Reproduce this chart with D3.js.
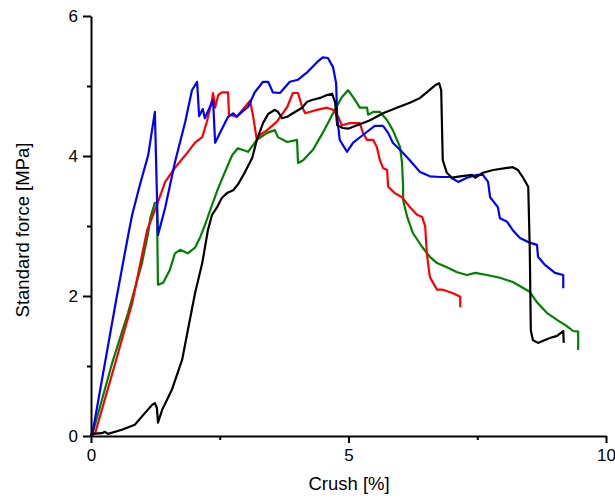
<!DOCTYPE html>
<html>
<head>
<meta charset="utf-8">
<script src="https://cdn.jsdelivr.net/npm/d3@7"></script>
<style>
  body { margin: 0; background: #fff; }
  svg { font-family: Arial, "Liberation Sans", sans-serif; }
  .line { fill: none; stroke-width: 2.2; stroke-linejoin: round; }
  .axis path, .axis line { stroke: #000; }
  .axis path { stroke-width: 2; }
  .axis line { stroke-width: 2; }
  .axis text { font-size: 17px; fill: #000; }
  .label { font-size: 18.5px; fill: #000; }
</style>
</head>
<body>
<svg id="chart" width="615" height="499"></svg>
<script>
// [crush %, standard force MPa]
const blue = [[0,0],[0.04,0.09],[0.27,1.04],[0.50,1.99],[0.74,2.94],[0.80,3.16],[0.95,3.59],[1.11,4.01],[1.24,4.63],[1.30,2.87],[1.44,3.26],[1.63,3.91],[1.83,4.49],[1.96,4.94],[2.06,5.06],[2.10,4.57],[2.17,4.67],[2.21,4.54],[2.37,4.80],[2.41,4.19],[2.66,4.56],[2.76,4.61],[2.83,4.56],[2.93,4.63],[3.05,4.70],[3.18,4.91],[3.34,5.06],[3.44,5.06],[3.53,4.91],[3.67,4.90],[3.86,5.06],[4.02,5.09],[4.19,5.19],[4.39,5.34],[4.50,5.41],[4.60,5.40],[4.70,5.27],[4.76,5.04],[4.78,4.56],[4.83,4.23],[4.97,4.06],[5.09,4.19],[5.28,4.30],[5.51,4.43],[5.67,4.43],[5.77,4.33],[5.86,4.19],[6.00,4.09],[6.19,3.94],[6.39,3.77],[6.58,3.71],[6.78,3.70],[6.97,3.70],[7.13,3.63],[7.30,3.69],[7.50,3.73],[7.61,3.73],[7.71,3.63],[7.75,3.41],[7.90,3.27],[7.94,3.11],[8.08,3.06],[8.19,2.94],[8.33,2.83],[8.49,2.77],[8.66,2.73],[8.68,2.56],[8.82,2.44],[9.01,2.33],[9.17,2.30],[9.17,2.11]];

const red = [[0,0],[0.08,0.04],[0.47,1.04],[0.80,1.90],[1.09,2.94],[1.28,3.30],[1.44,3.63],[1.63,3.83],[1.83,4.01],[2.02,4.19],[2.16,4.27],[2.25,4.49],[2.35,4.80],[2.37,4.90],[2.41,4.69],[2.47,4.87],[2.54,4.91],[2.66,4.91],[2.68,4.59],[2.83,4.56],[2.99,4.70],[3.09,4.79],[3.15,4.56],[3.22,4.23],[3.28,4.30],[3.42,4.37],[3.61,4.49],[3.81,4.70],[3.92,4.90],[4.02,4.90],[4.10,4.70],[4.16,4.61],[4.39,4.66],[4.58,4.69],[4.70,4.66],[4.80,4.56],[4.87,4.44],[5.03,4.47],[5.22,4.47],[5.28,4.33],[5.36,4.23],[5.48,4.23],[5.55,4.13],[5.61,3.94],[5.67,3.83],[5.75,3.80],[5.77,3.56],[5.90,3.47],[6.04,3.41],[6.19,3.27],[6.33,3.16],[6.43,3.13],[6.49,2.99],[6.52,2.61],[6.58,2.27],[6.72,2.09],[6.83,2.09],[7.03,2.04],[7.17,1.99],[7.17,1.84]];

const green = [[0,0],[0.04,0.06],[0.41,1.04],[0.72,1.76],[0.99,2.47],[1.11,2.90],[1.15,3.11],[1.24,3.33],[1.28,3.33],[1.30,2.16],[1.40,2.19],[1.53,2.37],[1.63,2.61],[1.73,2.66],[1.88,2.61],[2.02,2.69],[2.12,2.84],[2.21,3.01],[2.35,3.30],[2.47,3.54],[2.60,3.77],[2.74,4.01],[2.85,4.11],[3.05,4.06],[3.22,4.23],[3.42,4.33],[3.57,4.37],[3.63,4.27],[3.81,4.20],[4.00,4.23],[4.02,3.90],[4.12,3.94],[4.31,4.09],[4.50,4.33],[4.70,4.61],[4.87,4.84],[4.99,4.94],[5.09,4.84],[5.22,4.69],[5.36,4.69],[5.38,4.59],[5.48,4.63],[5.61,4.63],[5.75,4.51],[5.86,4.37],[6.00,4.13],[6.04,3.90],[6.06,3.56],[6.06,3.37],[6.14,3.13],[6.25,2.90],[6.43,2.70],[6.58,2.56],[6.72,2.47],[6.91,2.41],[7.11,2.34],[7.30,2.30],[7.46,2.33],[7.69,2.30],[7.94,2.26],[8.19,2.20],[8.52,2.06],[8.66,1.91],[8.85,1.76],[9.05,1.66],[9.24,1.57],[9.36,1.50],[9.46,1.49],[9.46,1.23]];

const black = [[0,0],[0.02,0.03],[0.21,0.04],[0.27,0.06],[0.33,0.03],[0.60,0.09],[0.85,0.16],[1.05,0.33],[1.18,0.44],[1.24,0.47],[1.28,0.40],[1.30,0.19],[1.38,0.37],[1.57,0.66],[1.77,1.09],[1.88,1.51],[2.02,2.04],[2.16,2.47],[2.27,2.94],[2.35,3.16],[2.45,3.27],[2.54,3.40],[2.64,3.47],[2.76,3.51],[2.85,3.59],[2.99,3.77],[3.13,3.97],[3.22,4.23],[3.34,4.47],[3.44,4.60],[3.57,4.66],[3.63,4.63],[3.71,4.54],[3.81,4.56],[3.92,4.61],[4.10,4.69],[4.19,4.77],[4.29,4.80],[4.45,4.83],[4.58,4.87],[4.68,4.89],[4.74,4.77],[4.78,4.44],[4.89,4.40],[4.99,4.39],[5.17,4.44],[5.42,4.51],[5.67,4.61],[5.94,4.69],[6.19,4.76],[6.39,4.83],[6.52,4.91],[6.68,5.01],[6.76,5.04],[6.80,4.94],[6.82,4.27],[6.83,3.94],[6.91,3.76],[7.01,3.69],[7.17,3.71],[7.40,3.73],[7.46,3.69],[7.61,3.76],[7.81,3.80],[8.08,3.83],[8.19,3.84],[8.29,3.80],[8.39,3.69],[8.49,3.56],[8.52,2.66],[8.54,1.51],[8.58,1.37],[8.68,1.33],[8.78,1.36],[8.91,1.40],[9.05,1.43],[9.17,1.50],[9.18,1.33]];

const series = [
  { data: green, color: '#008000' },
  { data: red, color: '#ff0000' },
  { data: blue, color: '#0000ff' },
  { data: black, color: '#000000' }
];

const xMajor = [0, 5, 10];
const xMinor = [2.5, 7.5];
const yMajor = [0, 2, 4, 6];
const yMinor = [1, 3, 5];

const svg = d3.select('#chart');

const xScale = d3.scaleLinear().domain([0, 10]).range([91, 606]);
const yScale = d3.scaleLinear().domain([0, 6]).range([436, 16]);

const line = d3.line()
  .x((d) => xScale(d[0]))
  .y((d) => yScale(d[1]));

svg.selectAll('path.line')
  .data(series)
  .enter()
  .append('path')
  .attr('class', 'line')
  .attr('stroke', (d) => d.color)
  .attr('d', (d) => line(d.data));

// minor ticks first, then major axes with domain lines
svg.append('g')
  .attr('class', 'axis')
  .attr('transform', 'translate(0, 436)')
  .call(d3.axisBottom(xScale).tickValues(xMinor).tickSize(4).tickSizeOuter(0).tickFormat(''))
  .call((g) => g.select('.domain').remove());

svg.append('g')
  .attr('class', 'axis')
  .attr('transform', 'translate(91, 0)')
  .call(d3.axisLeft(yScale).tickValues(yMinor).tickSize(4).tickSizeOuter(0).tickFormat(''))
  .call((g) => g.select('.domain').remove());

svg.append('g')
  .attr('class', 'axis')
  .attr('transform', 'translate(0, 436)')
  .call(d3.axisBottom(xScale).tickValues(xMajor).tickSize(7).tickSizeOuter(0).tickPadding(6).tickFormat(d3.format('d')));

svg.append('g')
  .attr('class', 'axis')
  .attr('transform', 'translate(91, 0)')
  .call(d3.axisLeft(yScale).tickValues(yMajor).tickSize(8).tickSizeOuter(0).tickPadding(5).tickFormat(d3.format('d')));

svg.append('text')
  .attr('class', 'label')
  .attr('text-anchor', 'middle')
  .attr('transform', 'translate(29, 230) rotate(-90)')
  .text('Standard force [MPa]');

svg.append('text')
  .attr('class', 'label')
  .attr('text-anchor', 'middle')
  .attr('x', 349)
  .attr('y', 490)
  .text('Crush [%]');
</script>
</body>
</html>
